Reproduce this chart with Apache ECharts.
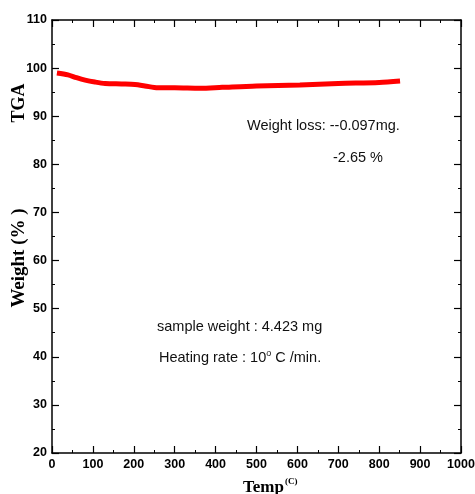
<!DOCTYPE html>
<html>
<head>
<meta charset="utf-8">
<script src="https://cdn.jsdelivr.net/npm/echarts@6/dist/echarts.min.js"></script>
<style>
  html, body { margin: 0; padding: 0; background: #fff; }
  #chartTga { width: 475px; height: 494px; }
</style>
</head>
<body>
<div id="chartTga"></div>
<script>
  'use strict'

  /************************ DATA *************************/
  var temps = [12, 39, 60, 81, 105, 130, 170, 203, 227, 259, 300, 362, 416, 500, 606, 700, 800, 851];
  var weights = [99.0, 98.6, 98.0, 97.5, 97.1, 96.8, 96.7, 96.6, 96.3, 95.9, 95.9, 95.8, 96.0, 96.3, 96.5, 96.8, 97.0, 97.3];
  var xTicks = [0, 1000, 100];
  var yTicks = [20, 110, 10];

  var points = temps.map(function(t, i) { return [t, weights[i]]; });

  var tickFont = {
    fontFamily: 'Liberation Sans Narrow, Liberation Sans, Arial',
    fontWeight: 'bold',
    fontSize: 12.5,
    color: '#000',
    formatter: function(v) { return String(v); }
  };
  var axisLine = { show: true, onZero: false, lineStyle: { color: '#000', width: 1.5 } };
  var tick = { inside: true, length: 7, lineStyle: { color: '#000', width: 1.2 } };
  var minor = { show: true, splitNumber: 2, length: 3, lineStyle: { color: '#000', width: 1 } };

  var chart = echarts.init(document.getElementById('chartTga'));

  var option = {
    animation: false,
    backgroundColor: '#fff',
    grid: {
      top: 20,
      right: 14,
      bottom: 41,
      left: 52,
      outerBoundsMode: 'none'
    },
    xAxis: [{
      type: 'value',
      min: xTicks[0],
      max: xTicks[1],
      interval: xTicks[2],
      axisLine: axisLine,
      axisTick: tick,
      minorTick: minor,
      splitLine: { show: false },
      axisLabel: Object.assign({ margin: 5 }, tickFont)
    }, {
      type: 'value',
      position: 'top',
      min: xTicks[0],
      max: xTicks[1],
      interval: xTicks[2],
      axisLine: axisLine,
      axisTick: tick,
      minorTick: minor,
      splitLine: { show: false },
      axisLabel: { show: false }
    }],
    yAxis: [{
      type: 'value',
      min: yTicks[0],
      max: yTicks[1],
      interval: yTicks[2],
      axisLine: axisLine,
      axisTick: tick,
      minorTick: minor,
      splitLine: { show: false },
      axisLabel: Object.assign({ margin: 5 }, tickFont)
    }, {
      type: 'value',
      position: 'right',
      min: yTicks[0],
      max: yTicks[1],
      interval: yTicks[2],
      axisLine: axisLine,
      axisTick: tick,
      minorTick: minor,
      splitLine: { show: false },
      axisLabel: { show: false }
    }],
    series: [{
      name: 'TGA',
      type: 'line',
      data: points,
      smooth: 0.3,
      showSymbol: false,
      lineStyle: { color: '#ff0000', width: 5 }
    }],
    graphic: [
      {
        type: 'text', x: 19, y: 258, rotation: Math.PI / 2,
        style: { text: 'Weight (% )', font: 'bold 19px "Liberation Serif", serif', fill: '#000',
                 textAlign: 'center', textVerticalAlign: 'middle' }
      },
      {
        type: 'text', x: 19, y: 103, rotation: Math.PI / 2,
        style: { text: 'TGA', font: 'bold 18px "Liberation Serif", serif', fill: '#000',
                 textAlign: 'center', textVerticalAlign: 'middle' }
      },
      {
        type: 'text', x: 243, y: 477,
        style: {
          text: '{a|Temp}{b|(C)}',
          rich: {
            a: { font: 'bold 17px "Liberation Serif", serif', fill: '#000', verticalAlign: 'bottom' },
            b: { font: 'bold 9px "Liberation Serif", serif', fill: '#000', padding: [0, 0, 10, 1] }
          }
        }
      },
      {
        type: 'text', x: 247, y: 126,
        style: { text: 'Weight loss: --0.097mg.', font: '14.5px "Liberation Sans", Arial', fill: '#111',
                 textVerticalAlign: 'middle' }
      },
      {
        type: 'text', x: 333, y: 158,
        style: { text: '-2.65 %', font: '14.5px "Liberation Sans", Arial', fill: '#111',
                 textVerticalAlign: 'middle' }
      },
      {
        type: 'text', x: 157, y: 327,
        style: { text: 'sample weight : 4.423 mg', font: '14.5px "Liberation Sans", Arial', fill: '#111',
                 textVerticalAlign: 'middle' }
      },
      {
        type: 'text', x: 159, y: 358,
        style: {
          text: '{n|Heating rate : 10}{s|o}{n| C /min.}',
          textVerticalAlign: 'middle',
          rich: {
            n: { font: '14.5px "Liberation Sans", Arial', fill: '#111' },
            s: { font: '9px "Liberation Sans", Arial', fill: '#111', padding: [0, 0, 8, 0] }
          }
        }
      }
    ]
  };

  chart.setOption(option);
</script>
</body>
</html>
